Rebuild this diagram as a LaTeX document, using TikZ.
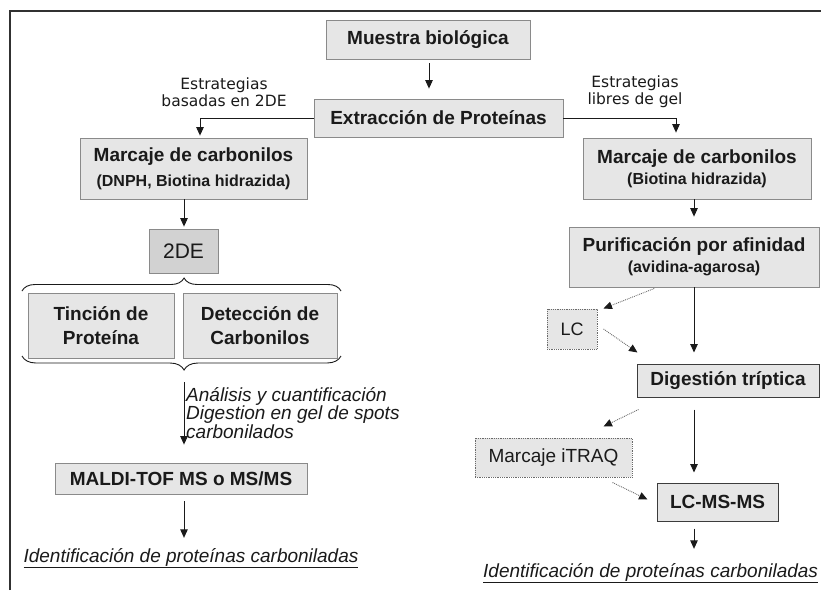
\documentclass[tikz,border=0pt]{standalone}
\usepackage{fontspec}
\setmainfont{Liberation Sans}
\newfontfamily\comicf{DejaVu Sans}
\usetikzlibrary{arrows.meta,decorations.pathreplacing,calc}
\definecolor{boxfill}{HTML}{E6E6E6}
\definecolor{boxdraw}{HTML}{8A8A8A}
\definecolor{darkfill}{HTML}{D2D2D2}
\definecolor{ink}{HTML}{1A1A1A}
\definecolor{dotcol}{HTML}{6A6A6A}
\begin{document}
\begin{tikzpicture}[x=1pt,y=-1pt,
  box/.style={draw=boxdraw,fill=boxfill,line width=0.8pt,inner sep=0pt,align=center,text=ink},
  strongbox/.style={box,draw=ink!85,line width=1pt},
  dotbox/.style={box,draw=dotcol,densely dotted,line width=1pt},
  big/.style={font=\fontsize{19}{21}\selectfont\bfseries},
  arr/.style={-{Triangle[length=8.5pt,width=7.5pt]},line width=0.9pt,draw=ink},
  dotarr/.style={-{Triangle[length=8.5pt,width=7.5pt,color=ink]},line width=0.9pt,draw=dotcol,densely dotted},
  bracestyle/.style={draw=ink,line width=0.9pt,decorate},
  stratlabel/.style={align=center,inner sep=0pt,text=ink,font=\comicf\fontsize{15.5}{17}\selectfont}]
\useasboundingbox (0,0) rectangle (821,590);
% frame
\draw[line width=1.5pt,draw=ink!90] (10,590) -- (10,11) -- (821,11);
\coordinate (lx) at (184,0);
\coordinate (rx) at (694,0);
% nodes
\node[box,big,minimum width=204pt,minimum height=39pt] (muestra) at (428,39.5) {Muestra biológica};
\node[box,big,minimum width=249pt,minimum height=38pt] (extr) at (438.5,118) {Extracción de Proteínas};
\node[stratlabel] (s2de) at (224,92) {Estrategias\\basadas en 2DE};
\node[stratlabel] (sgel) at (635,92) {Estrategias\\libres de gel};
\node[box,minimum width=227pt,minimum height=61pt,font=\fontsize{19}{25}\selectfont\bfseries] (marcL) at (193.5,168.5)
  {Marcaje de carbonilos\\{\fontsize{16}{25}\selectfont (DNPH, Biotina hidrazida)}};
\node[box,fill=darkfill,minimum width=69pt,minimum height=44pt,font=\fontsize{21}{23}\selectfont] (twoDE) at (183.5,251) {2DE};
\node[box,minimum width=146pt,minimum height=65pt,font=\fontsize{19}{23.5}\selectfont\bfseries] (tincion) at (101,325.5) {Tinción de\\Proteína};
\node[box,minimum width=154pt,minimum height=65pt,font=\fontsize{19}{23.5}\selectfont\bfseries] (detec) at (260,325.5) {Detección de\\Carbonilos};
\node[anchor=north west,align=left,inner sep=0pt,text=ink,font=\fontsize{19}{17.5}\selectfont\itshape] (anal) at (186,387)
  {Análisis y cuantificación\\Digestion en gel de spots\\carbonilados};
\node[box,big,minimum width=252pt,minimum height=31pt] (maldi) at (181,478.5) {MALDI-TOF MS o MS/MS};
\node[inner sep=0pt,text=ink,font=\fontsize{19}{21}\selectfont\itshape] (identL) at (191,558) {\underline{Identificación de proteínas carboniladas}};
% right branch
\node[box,minimum width=228pt,minimum height=61pt,font=\fontsize{19}{21}\selectfont\bfseries] (marcR) at (697,168.5)
  {Marcaje de carbonilos\\{\fontsize{16}{21}\selectfont (Biotina hidrazida)}};
\node[box,minimum width=250pt,minimum height=60pt,font=\fontsize{19}{21}\selectfont\bfseries] (purif) at (694,257)
  {Purificación por afinidad\\{\fontsize{16}{21}\selectfont (avidina-agarosa)}};
\node[dotbox,minimum width=50pt,minimum height=40pt,font=\fontsize{18}{20}\selectfont] (LC) at (572,329) {LC};
\node[strongbox,big,minimum width=182pt,minimum height=33pt] (digest) at (728,380.5) {Digestión tríptica};
\node[dotbox,minimum width=157pt,minimum height=39pt,font=\fontsize{19}{21}\selectfont] (itraq) at (553.5,457.5) {Marcaje iTRAQ};
\node[strongbox,big,minimum width=121pt,minimum height=38pt] (lcms) at (717.5,502) {LC-MS-MS};
\node[anchor=west,inner sep=0pt,text=ink,font=\fontsize{19}{21}\selectfont\itshape] (identR) at (483,573) {\underline{Identificación de proteínas carboniladas}};
% connectors left
\draw[arr,shorten <=4pt,shorten >=10pt] ([xshift=1pt]muestra.south) -- ([xshift=1pt]muestra.south |- extr.north);
\draw[arr,shorten >=2pt] (extr.west) -| ([xshift=6.5pt]marcL.north);
\draw[arr,shorten >=5pt] (extr.east) -| ([xshift=-21pt]marcR.north);
\draw[arr,shorten >=2pt] (marcL.south -| lx) -- (twoDE.north -| lx);
\draw[bracestyle,decoration={brace,amplitude=13pt,aspect=0.508}] (22,291) -- (341,291);
\draw[bracestyle,decoration={brace,amplitude=14pt,aspect=0.492}] (341,356) -- (22,356);
\coordinate (btip) at (184,371);
\draw[arr,shorten <=11pt,shorten >=18pt] (btip) -- (maldi.north -| btip);
\draw[arr,shorten <=7pt,shorten >=10pt] (maldi.south -| lx) -- (identL.north -| lx);
% connectors right
\draw[arr,shorten >=10pt] (marcR.south -| rx) -- (purif.north -| rx);
\draw[arr,shorten >=11pt] (purif.south -| rx) -- (digest.north -| rx);
\draw[arr,shorten <=12pt,shorten >=10pt] (digest.south -| rx) -- (lcms.north -| rx);
\draw[arr,shorten <=7pt,shorten >=14pt] (lcms.south -| rx) -- (identR.north -| rx);
\draw[dotarr,shorten <=3pt] ([xshift=-37pt]purif.south) -- ([xshift=6pt]LC.north east);
\draw[dotarr] ([xshift=6pt]LC.east) -- ([xshift=1pt,yshift=11pt]digest.north west);
\draw[dotarr] ([xshift=2pt,yshift=-12pt]digest.south west) -- ([xshift=-29pt,yshift=11pt]itraq.north east);
\draw[dotarr] ([xshift=-20pt,yshift=-5pt]itraq.south east) -- ([xshift=-9pt,yshift=-17pt]lcms.north west);
\end{tikzpicture}
\end{document}
